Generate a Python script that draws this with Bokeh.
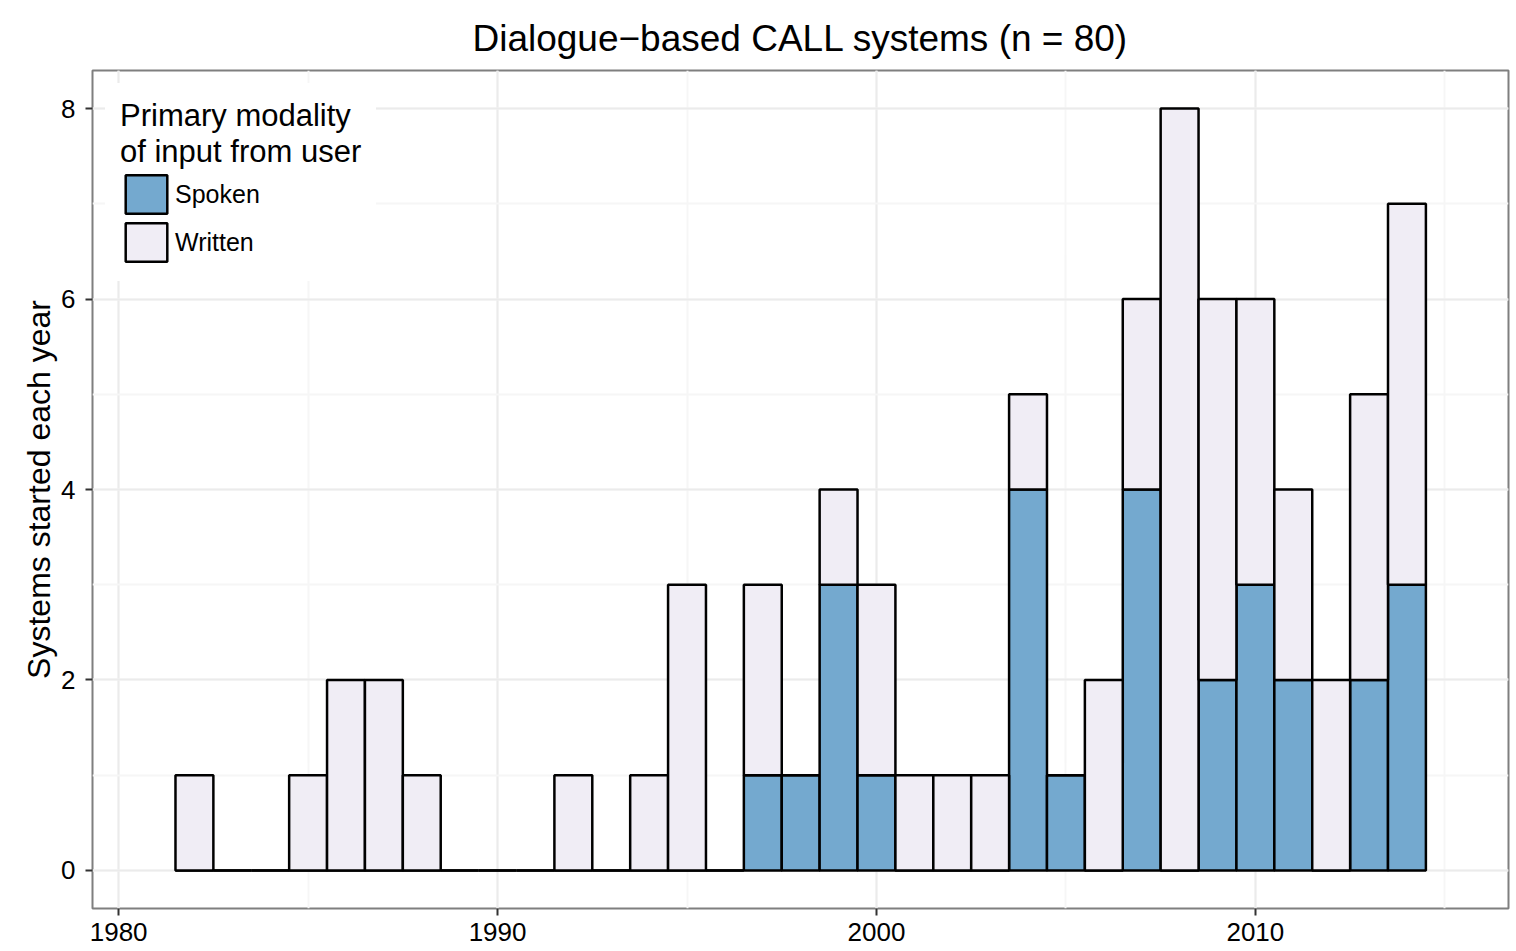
from bokeh.plotting import figure
from bokeh.models import Range1d, SingleIntervalTicker, ColumnDataSource, Legend
from bokeh.embed import file_html
from bokeh.resources import INLINE

# ---- data ----
years = list(range(1982, 2015))
spoken = [0, 0, 0, 0, 0, 0, 0, 0, 0, 0, 0, 0, 0, 0, 0,
          1, 1, 3, 1, 0, 0, 0, 4, 1, 0, 4, 0, 2, 3, 2, 0, 2, 3]
written = [1, 0, 0, 1, 2, 2, 1, 0, 0, 0, 1, 0, 1, 3, 0,
           2, 0, 1, 2, 1, 1, 1, 1, 0, 2, 2, 8, 4, 3, 2, 2, 3, 4]
series = ["Spoken", "Written"]
x_ticks_interval = 10
y_ticks_interval = 2

title_text = "Dialogue\u2212based CALL systems (n = 80)"
y_label = "Systems started each year"
legend_title = "Primary modality\nof input from user"

colors = ["#74a9cf", "#f0edf5"]
FONT = "Liberation Sans"

src = ColumnDataSource(dict(year=years, Spoken=spoken, Written=written))

p = figure(width=1510, height=948,
           x_range=Range1d(1979.31, 2016.68), y_range=Range1d(-0.4, 8.4),
           output_backend="svg", toolbar_location=None,
           min_border_left=92, min_border_right=2, min_border_top=70,
           min_border_bottom=40,
           background_fill_color="white", border_fill_color="white")

p.title.text = title_text
p.title.text_font = FONT
p.title.text_font_size = "37px"
p.title.text_font_style = "normal"
p.title.text_color = "black"
p.title.align = "center"
p.title.standoff = 23

rs = p.vbar_stack(series, x="year", width=1, source=src,
                  fill_color=colors, line_color="black", line_width=2.5)

legend = Legend(items=[(s, [r]) for s, r in zip(series, rs)],
                title=legend_title, location="top_left")
legend.title_text_font = FONT
legend.title_text_font_size = "31px"
legend.title_text_font_style = "normal"
legend.title_text_color = "black"
legend.title_standoff = 0
legend.label_text_font = FONT
legend.label_text_font_size = "25px"
legend.label_text_color = "black"
legend.glyph_width = 52
legend.glyph_height = 48
legend.label_height = 48
legend.spacing = 0
legend.label_standoff = 3
legend.padding = 15
legend.margin = 13
legend.border_line_alpha = 0
legend.background_fill_color = "white"
legend.background_fill_alpha = 1
p.add_layout(legend)

p.xaxis.ticker = SingleIntervalTicker(interval=x_ticks_interval, num_minor_ticks=2)
p.yaxis.ticker = SingleIntervalTicker(interval=y_ticks_interval, num_minor_ticks=2)

for ax in (p.xaxis[0], p.yaxis[0]):
    ax.axis_line_color = None
    ax.major_tick_in = 0
    ax.major_tick_out = 7
    ax.major_tick_line_color = "#333333"
    ax.major_tick_line_width = 2
    ax.minor_tick_in = 0
    ax.minor_tick_out = 0
    ax.minor_tick_line_color = None
    ax.major_label_text_font = FONT
    ax.major_label_text_font_size = "26px"
    ax.major_label_text_color = "black"

p.xaxis.major_label_standoff = 7
p.yaxis.major_label_standoff = 10

p.yaxis.axis_label = y_label
p.yaxis.axis_label_text_font = FONT
p.yaxis.axis_label_text_font_size = "32px"
p.yaxis.axis_label_text_font_style = "normal"
p.yaxis.axis_label_text_color = "black"
p.yaxis.axis_label_standoff = 1

for g in (p.xgrid[0], p.ygrid[0]):
    g.grid_line_color = "#ebebeb"
    g.grid_line_width = 2
    g.minor_grid_line_color = "#f6f6f6"
    g.minor_grid_line_width = 2

p.outline_line_color = "#7f7f7f"
p.outline_line_width = 2

open("out.html", "w").write(file_html(p, INLINE))
